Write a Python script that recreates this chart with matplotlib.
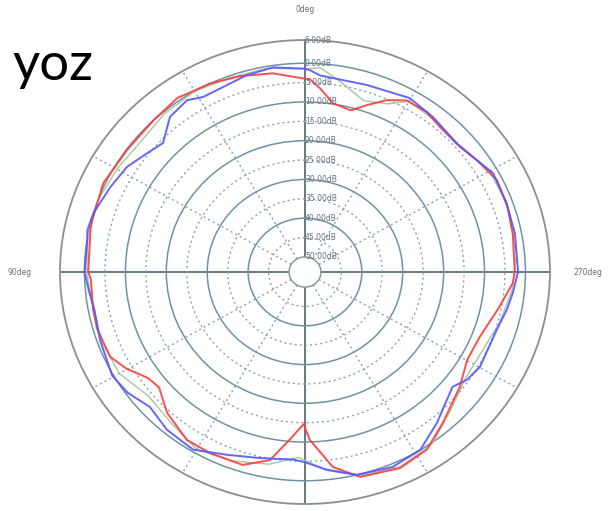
import numpy as np
import matplotlib
matplotlib.use("Agg")
import matplotlib.pyplot as plt

# angle in degrees (0 at top, counter-clockwise), gain in dB
red_deg = [0, 8.7, 17.4, 25.5, 34.8, 43.4, 54, 65, 75.5, 78, 90, 92, 100.7, 106,
           114.7, 119.7, 125.6, 129.9, 137.2, 146.4, 153.6, 163, 170, 175, 179.5,
           181.6, 187.7, 194.3, 204.7, 213, 220.9, 231.9, 240.2, 248.6, 259, 266.8,
           270, 281.2, 288.7, 296.8, 304.5, 310.4, 318.6, 324.2, 330.7, 335.7, 340.6,
           345, 351, 355.6, 358.5, 360]
red_db = [-4.0, -2.0, -0.9, 0.0, 0.8, 0.0, -0.2, 0.5, -0.2, -0.3, -0.9, -1.5, -1.2, -1.0,
          -1.5, -3.6, -6.8, -7.4, -4.3, -1.8, -1.7, -1.8, -4.6, -10.4, -14.6,
          -10.5, -3.1, 0.7, 1.8, 0.8, -2.4, -5.8, -8.2, -8.0, -5.6, -3.0,
          -2.6, -2.1, -1.6, -1.3, -2.9, -4.1, -4.0, -3.0, -3.1, -5.2, -8.2,
          -10.7, -9.8, -6.3, -4.2, -4.0]

blue_deg = [0, 8.4, 15.6, 21.6, 28.9, 33, 39.5, 46.2, 51.5, 58.1, 65.3, 73.6, 78.5, 81,
            90, 95, 100.8, 109.3, 119.6, 125.7, 132.6, 140.4, 149.2, 158, 167, 176.5,
            180, 186, 193.6, 203, 211.5, 219.6, 226.4, 230.6, 234.9, 240.2, 252.3,
            258.8, 263.9, 270, 281, 289.9, 299, 304.5, 311.9, 322, 330.3, 342.6,
            355.9, 358.6, 360]
blue_db = [-1.4, -0.5, -1.1, -2.0, -2.3, -1.0, -2.0, -5.8, -4.6, -2.6, -1.5, 0.0, 0.4, 0.0,
           0.0, -0.8, -1.5, -0.8, 0.3, -0.5, -2.4, -1.0, -0.5, -3.0, -4.6, -5.4,
           -4.8, -2.5, 0.0, 0.8, 0.0, -3.3, -6.0, -7.2, -5.5, -4.6, -4.7,
           -3.6, -2.8, -1.8, -1.6, -1.5, -1.3, -2.9, -4.1, -3.1, -2.2, -3.3,
           -3.0, -1.8, -1.4]

green_deg = [0, 10, 20, 30, 40, 50, 60, 70, 80, 90, 100, 110, 120, 130, 140, 150, 160,
             170, 178, 185, 195, 205, 215, 225, 235, 245, 255, 265, 275, 290, 300,
             310, 320, 330, 335, 342, 350, 356, 360]
green_db = [-1.5, -0.5, -0.5, 0.0, -0.5, -1.5, -0.8, 0.0, 0.0, -0.5, -1.3, -1.0, -1.5,
            -4.0, -3.0, -1.0, -2.0, -3.5, -6.0, -3.0, 0.5, 1.5, 0.3, -3.5, -6.0, -6.0,
            -4.5, -3.0, -2.0, -1.5, -1.8, -4.0, -3.5, -3.0, -6.0, -7.4, -4.0, -1.0, -1.5]

ring_levels = [0, -5, -10, -15, -20, -25, -30, -35, -40, -45]
ring_labels = ["6.00dB", "0.00dB", "5.00dB", "10.00dB", "15.00dB", "20.00dB", "25.00dB",
               "30.00dB", "35.00dB", "40.00dB", "45.00dB", "50.00dB"]
label_levels = [6, 0, -5, -10, -15, -20, -25, -30, -35, -40, -45, -50]

fig = plt.figure(figsize=(6.14, 5.11), dpi=100)
ax = fig.add_axes([0.0977, 0.0137, 0.798, 0.908], projection="polar")
ax.set_aspect("auto")
ax.set_theta_zero_location("N")
ax.set_theta_direction(1)
ax.set_ylim(-50, 6)
ax.set_rorigin(-53.9)

# rings
ax.set_yticks(ring_levels)
ax.set_yticklabels([])
for lvl, gl in zip(ring_levels, ax.yaxis.get_gridlines()):
    if lvl % 10 == 0:
        gl.set_linestyle("-")
        gl.set_color("#6f93a5")
        gl.set_linewidth(1.1)
    else:
        gl.set_linestyle((0, (1.5, 2.2)))
        gl.set_color("#8aa2b8")
        gl.set_linewidth(1.0)

# spokes
spokes = np.arange(0, 360, 30)
ax.set_xticks(np.radians(spokes))
ax.set_xticklabels([])
ax.tick_params(length=0)
for ang, gl in zip(spokes, ax.xaxis.get_gridlines()):
    if ang % 90 == 0:
        gl.set_linestyle("-")
        gl.set_color("#4f6270")
        gl.set_linewidth(1.2)
    else:
        gl.set_linestyle((0, (1.5, 2.2)))
        gl.set_color("#8aa2b8")
        gl.set_linewidth(1.0)

ax.spines["polar"].set_color("#8a8f94")
ax.spines["polar"].set_linewidth(1.3)
ax.spines["inner"].set_color("#8a9aa6")
ax.spines["inner"].set_linewidth(1.1)

ax.plot(np.radians(green_deg), green_db, color="#a3c9a3", lw=1.0, zorder=3,
        solid_joinstyle="round")
ax.plot(np.radians(red_deg), red_db, color="#ff3b3b", lw=1.4, alpha=0.9, zorder=4,
        solid_joinstyle="round")
ax.plot(np.radians(blue_deg), blue_db, color="#5555ff", lw=1.4, alpha=0.9, zorder=5,
        solid_joinstyle="round")

for lvl, lab in zip(label_levels, ring_labels):
    ax.text(0, lvl, lab, fontsize=5.5, color="#66727c", ha="left", va="center",
            zorder=6)

ax.text(0, 13.8, "0deg", fontsize=5.5, color="#66727c", ha="center", va="center",
        clip_on=False)
ax.text(np.radians(90), 15.8, "90deg", fontsize=5.5, color="#66727c", ha="center",
        va="center", clip_on=False)
ax.text(np.radians(270), 15.3, "270deg", fontsize=5.5, color="#66727c", ha="center",
        va="center", clip_on=False)

fig.text(12 / 614, 1 - 80 / 511, "yoz", fontsize=38, family="Lato", color="black",
         ha="left", va="baseline")

fig.savefig("out.png", dpi=100)
